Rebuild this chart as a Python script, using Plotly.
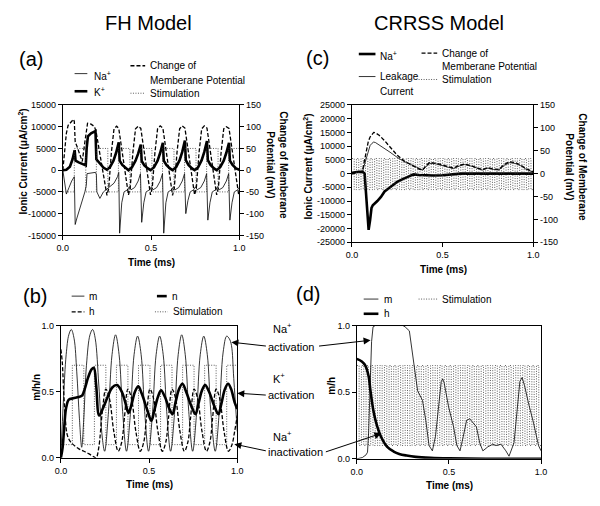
import plotly.graph_objects as go

# ---------------- DATA ----------------
# Panel (a) FH model ionic currents (uA/cm2) and membrane potential (mV)
fh_na_t = [0, 0.01, 0.02, 0.035, 0.05, 0.065, 0.07, 0.08, 0.095, 0.11, 0.125, 0.133, 0.137, 0.185, 0.19, 0.193,
           0.21, 0.23, 0.26, 0.29, 0.31, 0.317, 0.322,
           0.334, 0.347, 0.367, 0.377, 0.387, 0.407, 0.427, 0.44, 0.447,
           0.459, 0.472, 0.492, 0.502, 0.512, 0.532, 0.552, 0.565, 0.572,
           0.584, 0.597, 0.617, 0.627, 0.637, 0.657, 0.677, 0.69, 0.697,
           0.709, 0.722, 0.742, 0.752, 0.762, 0.782, 0.802, 0.815, 0.822,
           0.834, 0.847, 0.867, 0.877, 0.887, 0.907, 0.927, 0.94, 0.947,
           0.959, 0.972, 0.992, 1.0]
fh_na = [0, -3000, -5500, -4000, -2500, -1500, -12500, -11000, -9000, -7500, -5000, -3500, -800, -500, -1000, -5000,
         -6500, -5000, -4000, -3000, -1500, -500, -14500,
         -7500, -5000, -4500, -3800, -4500, -4000, -2500, -800, -12000,
         -7500, -5000, -4500, -3800, -4500, -4000, -2500, -800, -14500,
         -7500, -5000, -4500, -3800, -4500, -4000, -2500, -800, -10000,
         -7000, -5000, -4500, -3800, -4500, -4000, -2500, -800, -11500,
         -7500, -5000, -4500, -3800, -4500, -4000, -2500, -800, -11500,
         -7500, -5000, -4500, -4000]

fh_k_t = [0, 0.02, 0.04, 0.055, 0.067, 0.072, 0.09, 0.11, 0.13, 0.135, 0.142, 0.16, 0.185, 0.19, 0.21, 0.23, 0.25,
          0.267, 0.287, 0.302, 0.317, 0.322, 0.337, 0.357, 0.372,
          0.392, 0.412, 0.427, 0.442, 0.447, 0.462, 0.482, 0.497,
          0.517, 0.537, 0.552, 0.567, 0.572, 0.587, 0.607, 0.622,
          0.642, 0.662, 0.677, 0.692, 0.697, 0.712, 0.732, 0.747,
          0.767, 0.787, 0.802, 0.817, 0.822, 0.837, 0.857, 0.872,
          0.892, 0.912, 0.927, 0.942, 0.947, 0.962, 0.982, 1.0]
fh_k = [0, 100, 800, 2500, 4600, 2200, 1800, 1400, 1100, 5000, 7800, 8500, 9000, 2500, 1500, 600, 100,
        700, 2200, 4000, 6400, 2200, 1200, 400, 0,
        700, 2200, 3800, 5900, 2100, 1100, 400, 0,
        700, 2200, 4000, 6300, 2200, 1200, 400, 0,
        700, 2300, 4200, 6800, 2300, 1200, 400, 0,
        700, 2300, 4200, 6700, 2300, 1200, 400, 0,
        700, 2200, 4000, 6300, 2200, 1200, 400, 100]

fh_vm_t = [0, 0.01, 0.02, 0.03, 0.045, 0.06, 0.065, 0.07, 0.08, 0.095, 0.11, 0.125, 0.14, 0.16, 0.18, 0.19, 0.22,
           0.25, 0.26, 0.275, 0.29, 0.305, 0.317,
           0.342, 0.372, 0.382, 0.397, 0.412, 0.427, 0.442,
           0.467, 0.497, 0.507, 0.522, 0.537, 0.552, 0.567,
           0.592, 0.622, 0.632, 0.647, 0.662, 0.677, 0.692,
           0.717, 0.747, 0.757, 0.772, 0.787, 0.802, 0.817,
           0.842, 0.872, 0.882, 0.897, 0.912, 0.927, 0.942,
           0.967, 0.997, 1.0]
fh_vm = [0, 45, 85, 103, 110, 117, 112, 65, 55, 35, 20, 65, 108, 106, 100, 85, 15,
         -58, -42, 40, 95, 101, 96,
         30, -57, -40, 40, 95, 101, 96,
         30, -57, -40, 40, 95, 102, 97,
         30, -58, -40, 40, 95, 102, 97,
         30, -57, -40, 40, 95, 102, 97,
         30, -57, -40, 40, 95, 100, 96,
         30, -57, -55]

fh_stim_edges = [0, 0.065, 0.13, 0.19, 0.255, 0.315, 0.38, 0.44, 0.505, 0.565, 0.63, 0.69, 0.755, 0.815, 0.88, 0.94, 1.0]
fh_stim_levels_mv = [-50, 50]      # low, high (mV)
fh_stim_levels_gate = [0.1, 0.7]   # low, high (panel b scale)

# Panel (b) FH gating variables
fh_m_t = [0, 0.015, 0.03, 0.045, 0.059, 0.075, 0.09, 0.105, 0.118, 0.13, 0.145, 0.165, 0.18, 0.195, 0.215, 0.235,
          0.248, 0.27, 0.29, 0.31, 0.33, 0.35, 0.372,
          0.395, 0.415, 0.435, 0.455, 0.475, 0.497,
          0.52, 0.54, 0.56, 0.58, 0.6, 0.622,
          0.645, 0.665, 0.685, 0.705, 0.725, 0.747,
          0.77, 0.79, 0.81, 0.83, 0.85, 0.875,
          0.898, 0.92, 0.94, 0.955, 0.967, 0.98, 1.0]
fh_m = [0.02, 0.45, 0.78, 0.93, 0.97, 0.9, 0.65, 0.3, 0.08, 0.3, 0.7, 0.93, 0.97, 0.9, 0.55, 0.15,
        0.05, 0.35, 0.78, 0.93, 0.78, 0.35, 0.05,
        0.35, 0.78, 0.92, 0.78, 0.35, 0.05,
        0.35, 0.78, 0.92, 0.78, 0.35, 0.05,
        0.35, 0.78, 0.93, 0.78, 0.35, 0.05,
        0.35, 0.78, 0.92, 0.78, 0.35, 0.05,
        0.35, 0.8, 0.92, 0.9, 0.85, 0.6, 0.2]

fh_h_t = [0, 0.008, 0.016, 0.025, 0.035, 0.05, 0.07, 0.1, 0.13, 0.16, 0.19, 0.2, 0.215, 0.235, 0.255, 0.275, 0.3,
          0.325, 0.345, 0.36, 0.38, 0.4, 0.425, 0.45, 0.47, 0.485, 0.505, 0.525, 0.55,
          0.575, 0.595, 0.61, 0.63, 0.65, 0.675, 0.7, 0.72, 0.735, 0.755, 0.775, 0.8,
          0.825, 0.845, 0.86, 0.88, 0.9, 0.925, 0.95, 0.97, 0.985, 1.0]
fh_h = [0.82, 0.72, 0.5, 0.3, 0.18, 0.13, 0.1, 0.07, 0.05, 0.03, 0.005, 0.0, 0.08, 0.35, 0.52, 0.45, 0.2,
        0.05, 0.12, 0.3, 0.52, 0.45, 0.2, 0.05, 0.12, 0.3, 0.52, 0.45, 0.2,
        0.05, 0.12, 0.3, 0.52, 0.45, 0.2, 0.05, 0.12, 0.3, 0.52, 0.45, 0.2,
        0.05, 0.12, 0.3, 0.52, 0.45, 0.2, 0.05, 0.1, 0.2, 0.32]

fh_n_t = [0, 0.01, 0.02, 0.03, 0.045, 0.07, 0.1, 0.12, 0.135, 0.155, 0.175, 0.187, 0.2, 0.217, 0.24, 0.265, 0.29,
          0.318, 0.345, 0.365, 0.383, 0.4, 0.42, 0.439, 0.46, 0.49, 0.513, 0.53, 0.55, 0.568, 0.59, 0.615,
          0.633, 0.65, 0.67, 0.689, 0.71, 0.74, 0.763, 0.78, 0.8, 0.818, 0.84, 0.87, 0.893, 0.91, 0.93,
          0.948, 0.965, 0.985, 1.0]
fh_n = [0.0, 0.08, 0.25, 0.38, 0.44, 0.45, 0.46, 0.47, 0.52, 0.61, 0.67, 0.68, 0.55, 0.32, 0.38, 0.46, 0.53,
        0.55, 0.5, 0.42, 0.34, 0.4, 0.5, 0.54, 0.48, 0.36, 0.28, 0.36, 0.46, 0.51, 0.46, 0.37,
        0.33, 0.42, 0.52, 0.56, 0.5, 0.39, 0.33, 0.41, 0.51, 0.55, 0.5, 0.39, 0.33, 0.41, 0.52,
        0.56, 0.52, 0.42, 0.37]

# Panel (c) CRRSS model
cr_na_t = [0, 0.02, 0.04, 0.06, 0.07, 0.078, 0.085, 0.092, 0.1, 0.108, 0.115, 0.125, 0.14, 0.16, 0.18, 0.2,
           0.22, 0.25, 0.28, 0.31, 0.34, 0.37, 0.4, 0.45, 0.5, 0.55, 0.6, 0.7, 0.8, 0.9, 1.0]
cr_na = [0, 500, 700, 600, 0, -8000, -17000, -20500, -17000, -12500, -11500, -11000, -10000, -8500, -6500, -5500,
         -4500, -3000, -2000, -1000, -300, -500, -600, -700, -600, -200, 0, 0, 0, 0, 0]

cr_t = [0, 0.03, 0.05, 0.06, 0.07, 0.08, 0.09, 0.1, 0.11, 0.12, 0.13, 0.15, 0.18, 0.21, 0.25, 0.29, 0.33, 0.37,
        0.39, 0.41, 0.43, 0.46, 0.49, 0.53, 0.56, 0.59, 0.62, 0.66, 0.69, 0.72, 0.75, 0.78, 0.81, 0.84, 0.87,
        0.9, 0.93, 0.96, 1.0]
cr_leak = [300, 400, 500, 1200, 3500, 6500, 8800, 10200, 11000, 11500, 11300, 10500, 9200, 7800, 5900, 4300,
           3200, 1800, 1300, 2700, 3700, 3600, 3100, 2300, 1800, 2700, 3300, 2700, 1900, 1300, 2000, 1500, 1300,
           3000, 4000, 3700, 2900, 1600, 500]
cr_vm = [3, 4, 5, 10, 30, 55, 70, 80, 86, 90, 89, 84, 72, 58, 40, 27, 19, 10, 8, 18, 25, 23, 20, 15, 12, 18,
         21, 17, 12, 9, 13, 10, 9, 20, 26, 24, 19, 11, 4]

cr_stim_edges = [0, .0125, .025, .0375, .05, .0625, .075, .0875, .1, .1125, .125, .1375, .15, .1625, .175, .1875,
                 .2, .2125, .225, .2375, .25, .2625, .275, .2875, .3, .3125, .325, .3375, .35, .3625, .375, .3875,
                 .4, .4125, .425, .4375, .45, .4625, .475, .4875, .5, .5125, .525, .5375, .55, .5625, .575, .5875,
                 .6, .6125, .625, .6375, .65, .6625, .675, .6875, .7, .7125, .725, .7375, .75, .7625, .775, .7875,
                 .8, .8125, .825, .8375, .85, .8625, .875, .8875, .9, .9125, .925, .9375, .95, .9625, .975, .9875,
                 1.0]
cr_stim_levels_mv = [-35, 33]
cr_stim_levels_gate = [0.1, 0.7]

# Panel (d) CRRSS gating variables
cr_m_t = [0, 0.03, 0.05, 0.058, 0.064, 0.072, 0.08, 0.088, 0.1, 0.25, 0.262, 0.285, 0.303, 0.312, 0.321, 0.33,
          0.356, 0.374, 0.392, 0.41, 0.427, 0.445, 0.458, 0.466, 0.474, 0.498, 0.525, 0.543, 0.56, 0.578, 0.596,
          0.613, 0.631, 0.649, 0.667, 0.684, 0.711, 0.738, 0.755, 0.782, 0.809, 0.826, 0.853, 0.871, 0.885,
          0.897, 0.91, 0.933, 0.959, 0.986, 1.0]
cr_m = [0.0, 0.01, 0.03, 0.05, 0.2, 0.55, 0.88, 0.99, 1.0, 1.0, 0.99, 0.96, 0.78, 0.7, 0.6, 0.51,
        0.44, 0.29, 0.1, 0.06, 0.17, 0.41, 0.58, 0.6, 0.57, 0.39, 0.24, 0.1, 0.06, 0.17, 0.29,
        0.3, 0.27, 0.24, 0.12, 0.06, 0.09, 0.11, 0.1, 0.11, 0.06, 0.02, 0.12, 0.39, 0.58,
        0.61, 0.55, 0.41, 0.27, 0.1, 0.06]
cr_h_t = [0, 0.027, 0.046, 0.064, 0.073, 0.08, 0.09, 0.105, 0.13, 0.165, 0.2, 0.23, 0.27, 0.32, 0.4, 0.5, 0.7, 1.0]
cr_h = [0.75, 0.73, 0.7, 0.62, 0.52, 0.45, 0.36, 0.27, 0.17, 0.09, 0.055, 0.037, 0.025, 0.015, 0.008, 0.004,
        0.001, 0.0]


def step_levels(edges, levels, start_high):
    ys = []
    state = 1 if start_high else 0
    for _ in edges[:-1]:
        ys.append(levels[state])
        state = 1 - state
    ys.append(ys[-1])
    return ys


# ---------------- FIGURE ----------------
W, H = 600, 506
FONT = "Liberation Sans, Arial, Helvetica, sans-serif"


def px(x):
    return x / W


def py(y):
    return 1 - y / H


fig = go.Figure()
THIN = dict(color="black", width=0.8)
THICK = dict(color="black", width=2.6)
DASH = dict(color="black", width=1.3, dash="4px,2px")
DOT = dict(color="#333333", width=0.8, dash="1px,1.5px")

# (a)
fig.add_trace(go.Scatter(x=fh_stim_edges, y=step_levels(fh_stim_edges, fh_stim_levels_mv, False),
                         line=DOT, line_shape="hv", xaxis="x", yaxis="y2", mode="lines"))
fig.add_trace(go.Scatter(x=fh_na_t, y=fh_na, line=THIN, xaxis="x", yaxis="y", mode="lines"))
fig.add_trace(go.Scatter(x=fh_k_t, y=fh_k, line=THICK, xaxis="x", yaxis="y", mode="lines"))
fig.add_trace(go.Scatter(x=fh_vm_t, y=fh_vm, line=DASH, xaxis="x", yaxis="y2", mode="lines"))

# (c)
fig.add_trace(go.Scatter(x=cr_stim_edges, y=step_levels(cr_stim_edges, cr_stim_levels_mv, True),
                         line=DOT, line_shape="hv", xaxis="x2", yaxis="y4", mode="lines"))
fig.add_trace(go.Scatter(x=cr_t, y=cr_leak, line=THIN, xaxis="x2", yaxis="y3", mode="lines"))
fig.add_trace(go.Scatter(x=cr_t, y=cr_vm, line=DASH, xaxis="x2", yaxis="y4", mode="lines"))
fig.add_trace(go.Scatter(x=cr_na_t, y=cr_na, line=THICK, xaxis="x2", yaxis="y3", mode="lines"))

# (b)
fig.add_trace(go.Scatter(x=fh_stim_edges, y=step_levels(fh_stim_edges, fh_stim_levels_gate, False),
                         line=DOT, line_shape="hv", xaxis="x3", yaxis="y5", mode="lines"))
fig.add_trace(go.Scatter(x=fh_m_t, y=fh_m, line=THIN, line_shape="spline", xaxis="x3", yaxis="y5", mode="lines"))
fig.add_trace(go.Scatter(x=fh_h_t, y=fh_h, line=DASH, line_shape="spline", xaxis="x3", yaxis="y5", mode="lines"))
fig.add_trace(go.Scatter(x=fh_n_t, y=fh_n, line=THICK, line_shape="spline", xaxis="x3", yaxis="y5", mode="lines"))

# (d)
fig.add_trace(go.Scatter(x=cr_stim_edges, y=step_levels(cr_stim_edges, cr_stim_levels_gate, True),
                         line=DOT, line_shape="hv", xaxis="x4", yaxis="y6", mode="lines"))
fig.add_trace(go.Scatter(x=cr_m_t, y=cr_m, line=THIN, xaxis="x4", yaxis="y6", mode="lines"))
fig.add_trace(go.Scatter(x=cr_h_t, y=cr_h, line=THICK, line_shape="spline", xaxis="x4", yaxis="y6", mode="lines"))

tickfont = dict(family=FONT, size=9, color="black")


def xax(domain, anchor):
    return dict(domain=domain, anchor=anchor, range=[0, 1], tickvals=[0, 0.5, 1.0],
                ticktext=["0.0", "0.5", "1.0"], showline=True, linecolor="black", linewidth=1,
                mirror=True, ticks="outside", ticklen=4, tickcolor="black", showgrid=False,
                zeroline=False, tickfont=tickfont)


def yax(domain, anchor, rng, vals, **kw):
    d = dict(domain=domain, anchor=anchor, range=rng, tickvals=vals,
             ticktext=[("-" + str(abs(v))) if v < 0 else (f"{v:.1f}" if isinstance(v, float) else str(v)) for v in vals],
             showline=True, linecolor="black", linewidth=1, ticks="outside", ticklen=4,
             tickcolor="black", showgrid=False, zeroline=False, tickfont=tickfont)
    d.update(kw)
    return d


da_x = [px(58), px(238)]
da_y = [py(235), py(102)]
dc_x = [px(353), px(538)]
dc_y = [py(242), py(102)]
db_x = [px(56), px(236)]
db_y = [py(462), py(327)]
dd_x = [px(358), px(546)]
dd_y = [py(463), py(327)]

cur_a = [-15000, -10000, -5000, 0, 5000, 10000, 15000]
cur_c = [-25000, -20000, -15000, -10000, -5000, 0, 5000, 10000, 15000, 20000, 25000]
mv = [-150, -100, -50, 0, 50, 100, 150]
gate = [0.0, 0.5, 1.0]

fig.update_layout(
    width=W, height=H, autosize=False, showlegend=False,
    margin=dict(l=0, r=0, t=0, b=0), paper_bgcolor="white", plot_bgcolor="white",
    font=dict(family=FONT, color="black"),
    xaxis=xax(da_x, "y"),
    yaxis=yax(da_y, "x", [-15000, 15000], cur_a),
    yaxis2=yax(da_y, "x", [-150, 150], mv, overlaying="y", side="right"),
    xaxis2=xax(dc_x, "y3"),
    yaxis3=yax(dc_y, "x2", [-25000, 25000], cur_c),
    yaxis4=yax(dc_y, "x2", [-150, 150], mv, overlaying="y3", side="right"),
    xaxis3=xax(db_x, "y5"),
    yaxis5=yax(db_y, "x3", [0, 1], gate, mirror=True),
    xaxis4=xax(dd_x, "y6"),
    yaxis6=yax(dd_y, "x4", [0, 1], gate, mirror=True),
)

ann = []


def text(x, y, s, size=10, bold=False, angle=0, xanchor="left", yanchor="middle"):
    if bold:
        s = "<b>" + s + "</b>"
    ann.append(dict(x=px(x), y=py(y), xref="paper", yref="paper", text=s, showarrow=False,
                    font=dict(family=FONT, size=size, color="black"), textangle=angle,
                    xanchor=xanchor, yanchor=yanchor))


def arrow(hx, hy, tx, ty):
    ann.append(dict(x=px(hx), y=py(hy), xref="paper", yref="paper", text="", showarrow=True,
                    ax=tx - hx, ay=ty - hy, axref="pixel", ayref="pixel", arrowhead=2, arrowsize=1.4,
                    arrowwidth=1, arrowcolor="black", standoff=0))


shapes = []


def seg(x0, x1, y, line):
    shapes.append(dict(type="line", xref="paper", yref="paper", x0=px(x0), x1=px(x1), y0=py(y), y1=py(y),
                       line=line))


# titles and panel labels
text(145, 18, "FH Model", size=20, xanchor="center")
text(442, 18, "CRRSS Model", size=20, xanchor="center")
text(25, 55, "(a)", size=20, xanchor="center")
text(318, 54, "(c)", size=20, xanchor="center")
text(30, 297, "(b)", size=20, xanchor="center")
text(308, 295, "(d)", size=20, xanchor="center")

# axis titles
text(148, 263, "Time (ms)", bold=True, xanchor="center")
text(446, 270, "Time (ms)", bold=True, xanchor="center")
text(146, 489, "Time (ms)", bold=True, xanchor="center")
text(453, 490, "Time (ms)", bold=True, xanchor="center")
text(17, 160, "Ionic Current (&#956;A/cm<sup>2</sup>)", bold=True, angle=-90, xanchor="center")
text(308, 165, "Ionic Current (&#956;A/cm<sup>2</sup>)", bold=True, angle=-90, xanchor="center")
text(277, 164, "Change of Memberane<br>Potential (mV)", bold=True, angle=90, xanchor="center")
text(582, 166, "Change of Memberane<br>Potential (mV)", bold=True, angle=90, xanchor="center")
text(31, 390, "m/h/n", bold=True, angle=-90, xanchor="center")
text(332, 388, "m/h", bold=True, angle=-90, xanchor="center")

# legend (a)
seg(70, 83, 70, THIN)
text(88, 72, "Na<sup>+</sup>")
seg(70, 83, 88, THICK)
text(88, 89, "K<sup>+</sup>")
seg(127, 142, 62, DASH)
text(145, 62, "Change of")
text(145, 77, "Memberane Potential")
seg(127, 142, 90, DOT)
text(145, 90, "Stimulation")

# legend (c)
seg(360, 377, 50, THICK)
text(380, 52, "Na<sup>+</sup>")
seg(360, 377, 73, THIN)
text(380, 73, "Leakage")
text(380, 88, "Current")
seg(424, 440, 49, DASH)
text(443, 49, "Change of")
text(443, 63, "Memberane Potential")
seg(421, 440, 76, DOT)
text(443, 76, "Stimulation")

# legend (b)
seg(67, 80, 297, THIN)
text(83, 297, "m")
seg(67, 80, 313, DASH)
text(83, 313, "h")
seg(154, 164, 297, THICK)
text(167, 297, "n")
seg(152, 165, 313, DOT)
text(168, 313, "Stimulation")

# legend (d)
seg(365, 380, 300, THIN)
text(384, 300, "m")
seg(365, 380, 315, THICK)
text(384, 315, "h")
seg(421, 440, 300, DOT)
text(443, 300, "Stimulation")

# middle annotations
text(270, 330, "Na<sup>+</sup>", size=11)
text(265, 349, "activation", size=11)
arrow(230, 344, 266, 348)
arrow(372, 342, 319, 348)
text(270, 381, "K<sup>+</sup>", size=11)
text(265, 398, "activation", size=11)
arrow(236, 396, 266, 398)
text(270, 440, "Na<sup>+</sup>", size=11)
text(265, 456, "inactivation", size=11)
arrow(233, 448, 266, 455)
arrow(383, 437, 326, 456)

fig.update_layout(annotations=ann, shapes=shapes)

fig.write_html("out.html", config={"displayModeBar": False},
               post_script="document.body.style.margin='0';")
